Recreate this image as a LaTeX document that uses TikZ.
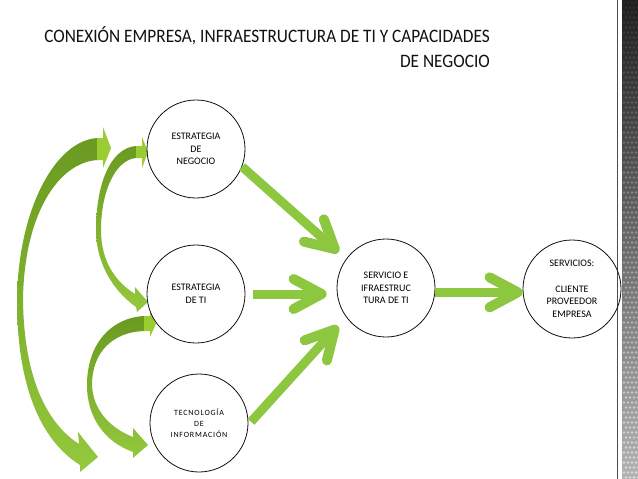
\documentclass[tikz,border=0pt]{standalone}
\usepackage{fontspec}
\setmainfont{Carlito}
\usepackage{xcolor}
\usepackage{tikz}
\usetikzlibrary{arrows.meta,calc,positioning}
\definecolor{ink}{HTML}{111111}
\definecolor{olive}{HTML}{6A9A20}
\definecolor{leaf}{HTML}{94C83D}
\definecolor{sprout}{HTML}{9ACD32}
\definecolor{grass}{HTML}{8DC63F}

\begin{document}
\begin{tikzpicture}[x=1pt,y=-1pt,
  stage/.style={circle,draw=ink,line width=0.8pt,minimum size=98pt,inner sep=0pt,align=center,font=\fontsize{10}{12.7}\selectfont},
  push/.style={draw=grass,line width=9pt,-{Straight Barb[length=28pt,width=30pt,line width=10pt,round]}},
  heading/.style={anchor=base east,inner sep=0pt,text=ink,font=\fontsize{19}{25}\selectfont\addfontfeature{FakeStretch=0.91}}]
\useasboundingbox (0,0) rectangle (638,479);
\fill[white] (0,0) rectangle (638,479);
% the dark strip on the right
\draw[black!70,line width=0.8pt] (617,0) -- (617,479);
\shade[top color=black!88,bottom color=black!30] (622,0) rectangle (638,479);
\foreach \j in {0,...,95} \foreach \i in {0,...,3} {
  \pgfmathsetmacro\op{0.06+0.5*\j/95}
  \fill[white,opacity=\op] ({624+4*\i+2*mod(\j,2)},{2.5+5*\j}) circle (1.3);
}
% title
\node[heading] (title) at (490,42) {CONEXIÓN EMPRESA, INFRAESTRUCTURA DE TI Y CAPACIDADES};
\node[heading] (subtitle) at (490,67) {DE NEGOCIO};
% the long curved arrow, negocio <-> tecnologia
\shade[top color=olive,bottom color=leaf] (98,138) .. controls (55,140) and (18,210) .. (17,300)
  .. controls (17,385) and (40,440) .. (80,465) -- (80,472) -- (98,457) -- (78,432) -- (79,444)
  .. controls (48,424) and (24,380) .. (23,300) .. controls (24,215) and (58,162) .. (98,160) -- cycle;
\fill[sprout] (97,138) -- (103,138) -- (103,127) -- (111,148) -- (103,168) -- (103,160) -- (97,160) -- cycle;
% negocio <-> estrategia de ti
\shade[top color=olive,bottom color=leaf] (136,146) .. controls (110,148) and (96,185) .. (96,230)
  .. controls (96,262) and (112,290) .. (136,307) -- (137,312) -- (148,302) -- (135,287) -- (135,294)
  .. controls (116,282) and (101,262) .. (101,230) .. controls (101,192) and (115,160) .. (136,158) -- cycle;
\fill[sprout] (136,146) -- (142,146) -- (142,137) -- (148,152) -- (142,168) -- (142,158) -- (136,158) -- cycle;
% estrategia de ti <-> tecnologia
\shade[top color=olive,bottom color=leaf] (144,316) .. controls (110,318) and (87,345) .. (87,385)
  .. controls (87,418) and (105,442) .. (133,452) -- (133,458) -- (148,445) -- (133,428) -- (133,437)
  .. controls (110,428) and (93,410) .. (92,385) .. controls (92,352) and (113,332) .. (144,331) -- cycle;
\fill[sprout] (144,316) -- (150,316) -- (150,312) -- (156,324) -- (150,337) -- (150,331) -- (144,331) -- cycle;
% the circles
\node[stage] (negocio) at (196,149) {ESTRATEGIA\\DE\\NEGOCIO};
\node[stage] (ti) at (196,294) {ESTRATEGIA\\DE TI};
\node[stage,font=\fontsize{8}{11}\selectfont\addfontfeature{LetterSpace=10}] (tecno) at (199,423) {TECNOLOGÍA\\DE\\INFORMACIÓN};
\node[stage] (servicio) at (386,288) {SERVICIO E\\IFRAESTRUC\\TURA DE TI};
\node[stage] (servicios) at (572,289) {SERVICIOS:\\\mbox{}\\CLIENTE\\PROVEEDOR\\EMPRESA};
% straight arrows into the middle
\draw[push,shorten >=10pt] (negocio.-21) -- (servicio.144);
\draw[push,shorten <=8pt,shorten >=10pt] (ti) -- (ti -| servicio.west);
\draw[push,shorten <=4pt,shorten >=12pt] (tecno.-2) -- (servicio.216);
\draw[push] (servicio.-5) -- (servicio.-5 -| servicios.west);
\end{tikzpicture}
\end{document}
